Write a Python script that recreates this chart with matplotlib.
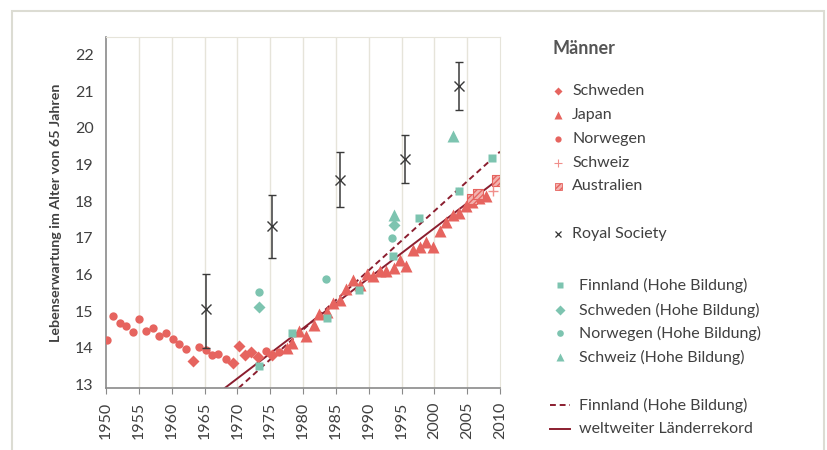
import matplotlib
matplotlib.use("Agg")
import matplotlib.pyplot as plt
from matplotlib.lines import Line2D
from matplotlib.patches import Rectangle

plt.rcParams['font.family'] = ['Lato', 'DejaVu Sans']

W, H = 827, 450

# --- data ---
norwegen_years = [1950.1, 1951.1, 1952.1, 1953.1, 1954.1, 1955.1, 1956.1, 1957.1, 1958.1, 1959.1,
                  1960.2, 1961.1, 1962.2, 1964.2, 1965.2, 1966.2, 1967.1, 1968.3, 1974.3, 1976.3]
norwegen_vals = [14.21, 14.87, 14.68, 14.58, 14.43, 14.79, 14.45, 14.55, 14.33, 14.39,
                 14.24, 14.10, 13.97, 14.01, 13.94, 13.79, 13.82, 13.70, 13.92, 13.89]

schweden_years = [1963.2, 1969.3, 1970.3, 1971.2, 1972.1, 1973.2, 1975.3]
schweden_vals = [13.63, 13.58, 14.04, 13.80, 13.88, 13.74, 13.81]

japan_years = [1977.5, 1978.3, 1979.4, 1980.5, 1981.6, 1982.5, 1983.7, 1984.6, 1985.7, 1986.6,
               1987.6, 1988.7, 1989.7, 1990.7, 1991.7, 1992.7, 1993.9, 1994.7, 1995.7, 1996.8,
               1997.8, 1998.7, 1999.8, 2000.8, 2001.8, 2002.8, 2003.8, 2004.8, 2005.8, 2006.8, 2007.8]
japan_vals = [13.98, 14.13, 14.45, 14.31, 14.61, 14.93, 14.98, 15.22, 15.29, 15.61,
              15.84, 15.72, 16.01, 15.96, 16.10, 16.10, 16.17, 16.40, 16.24, 16.68,
              16.76, 16.88, 16.74, 17.18, 17.42, 17.61, 17.68, 17.87, 17.98, 18.08, 18.15]

schweiz_years = [2008.9]
schweiz_vals = [18.28]

australien_years = [2005.7, 2006.6, 2009.6]
australien_vals = [18.06, 18.19, 18.56]

rs_years = [1965.3, 1975.3, 1985.6, 1995.6, 2003.8]
rs_vals = [15.05, 17.33, 18.58, 19.15, 21.14]
rs_low = [14.00, 16.44, 17.84, 18.49, 20.49]
rs_high = [16.01, 18.18, 19.33, 19.81, 21.81]

fin_hb_years = [1973.3, 1978.3, 1983.6, 1988.5, 1993.7, 1997.7, 2003.8, 2008.8]
fin_hb_vals = [13.49, 14.40, 14.80, 15.57, 16.51, 17.55, 18.28, 19.17]
swe_hb_years = [1973.3, 1993.8]
swe_hb_vals = [15.10, 17.35]
nor_hb_years = [1973.3, 1983.5, 1993.6]
nor_hb_vals = [15.53, 15.87, 17.00]
che_hb_years = [1993.8, 2002.8]
che_hb_vals = [17.62, 19.77]

# trend lines (end points)
fin_line_years = [1970.2, 2010.0]
fin_line_vals = [12.90, 19.35]
rec_line_years = [1968.1, 2010.0]
rec_line_vals = [12.90, 18.63]

RED = '#e6645f'
TEAL = '#7dc4b0'
DARK = '#8b1e2f'
TXT = '#404040'
GRID = '#e6e4da'

fig = plt.figure(figsize=(W / 100, H / 100), dpi=100)
ax = fig.add_axes([106 / W, 1 - 388 / H, (500 - 106) / W, (388 - 37) / H])

ax.set_xlim(1950, 2010)
ax.set_ylim(12.9, 22.48)
ax.set_xticks(range(1950, 2011, 5))
ax.set_yticks(range(13, 23))
for x in range(1955, 2010, 5):
    ax.axvline(x, color=GRID, lw=1.0, zorder=0)

for s in ['top', 'right']:
    ax.spines[s].set_color(GRID)
for s in ['left', 'bottom']:
    ax.spines[s].set_color('#8a8a8a')
    ax.spines[s].set_linewidth(1.2)

ax.tick_params(axis='x', labelrotation=90, labelsize=11.5, colors=TXT, length=4, color='#8a8a8a', pad=6)
ax.tick_params(axis='y', labelsize=11.5, colors=TXT, length=0, pad=9)
ax.set_ylabel('Lebenserwartung im Alter von 65 Jahren', fontsize=10.3, fontweight='bold', color=TXT, labelpad=9)

# lines
ax.plot(fin_line_years, fin_line_vals, color=DARK, lw=1.4, ls=(0, (3, 2)), zorder=2)
ax.plot(rec_line_years, rec_line_vals, color=DARK, lw=1.4, zorder=2)

# red series
ax.plot(norwegen_years, norwegen_vals, 'o', color=RED, ms=6, mec='none', zorder=3)
ax.plot(schweden_years, schweden_vals, 'D', color=RED, ms=6.2, mec='none', zorder=3)
ax.plot(japan_years, japan_vals, '^', color=RED, ms=8.5, mec='none', zorder=3)
ax.scatter(australien_years, australien_vals, marker='s', s=55, facecolor='#f3b3b0',
           edgecolor=RED, hatch='//////', lw=0.8, zorder=4)
ax.plot(schweiz_years, schweiz_vals, '+', color='#f08f8b', ms=7, mew=1.0, zorder=4)

# teal series
ax.plot(fin_hb_years, fin_hb_vals, 's', color=TEAL, ms=6.3, mec='none', zorder=4)
ax.plot(swe_hb_years, swe_hb_vals, 'D', color=TEAL, ms=6, mec='none', zorder=4)
ax.plot(nor_hb_years, nor_hb_vals, 'o', color=TEAL, ms=6, mec='none', zorder=4)
ax.plot(che_hb_years, che_hb_vals, '^', color=TEAL, ms=8.5, mec='none', zorder=4)

# Royal Society
yerr = [[v - lo for v, lo in zip(rs_vals, rs_low)], [hi - v for v, hi in zip(rs_vals, rs_high)]]
ax.errorbar(rs_years, rs_vals, yerr=yerr, fmt='x', color='#3a3a3a', ms=6.5, mew=1.0,
            elinewidth=1.1, capsize=3, capthick=1.0, zorder=5)


# --- legend drawn by hand ---
def fp(x, y):
    return x / W, 1 - y / H


fig.text(*fp(553, 48), 'Männer', fontsize=13, fontweight='bold', color='#555555', va='center', ha='left')

red_entries = [('D', 'Schweden', 91, 4.5), ('^', 'Japan', 115, 6), ('o', 'Norwegen', 139, 4.5),
               ('+', 'Schweiz', 162.7, 6)]
for m, lab, y, ms in red_entries:
    col = '#f08f8b' if m == '+' else RED
    fig.add_artist(Line2D([558 / W], [1 - y / H], marker=m, color=col, ms=ms, mec=col if m == '+' else 'none',
                          mew=0.8, transform=fig.transFigure))
    fig.text(*fp(572, y), lab, fontsize=11.5, color=TXT, va='center')

fig.add_artist(Rectangle(fp(554.5, 189.5), 7 / W, 7 / H, transform=fig.transFigure,
                         facecolor='#f3b3b0', edgecolor=RED, hatch='//////', lw=0.6))
fig.text(*fp(572, 186), 'Australien', fontsize=11.5, color=TXT, va='center')

fig.add_artist(Line2D([558 / W], [1 - 234.3 / H], marker='x', color='#333333', ms=4.5, mew=0.9,
                      transform=fig.transFigure))
fig.text(*fp(572, 234.3), 'Royal Society', fontsize=11.5, color=TXT, va='center')

teal_entries = [('s', 'Finnland (Hohe Bildung)', 285, 4.8), ('D', 'Schweden (Hohe Bildung)', 310, 4.8),
                ('o', 'Norwegen (Hohe Bildung)', 333.3, 4.8), ('^', 'Schweiz (Hohe Bildung)', 357.3, 6)]
for m, lab, y, ms in teal_entries:
    fig.add_artist(Line2D([560 / W], [1 - y / H], marker=m, color=TEAL, ms=ms, mec='none',
                          transform=fig.transFigure))
    fig.text(*fp(579, y), lab, fontsize=11.5, color=TXT, va='center')

fig.add_artist(Line2D([550 / W, 570 / W], [1 - 405 / H] * 2, color=DARK, lw=1.4, ls=(0, (3, 2)),
                      transform=fig.transFigure))
fig.text(*fp(579, 405), 'Finnland (Hohe Bildung)', fontsize=11.5, color=TXT, va='center')
fig.add_artist(Line2D([550 / W, 570 / W], [1 - 429.3 / H] * 2, color=DARK, lw=1.4,
                      transform=fig.transFigure))
fig.text(*fp(579, 429.3), 'weltweiter Länderrekord', fontsize=11.5, color=TXT, va='center')

# outer frame
fig.add_artist(Rectangle((12 / W, -0.05), (824 - 12) / W, 1.05 - 11 / H, transform=fig.transFigure,
                         facecolor='none', edgecolor='#dcdcd3', lw=1.5))

fig.savefig('out.png', dpi=100)
